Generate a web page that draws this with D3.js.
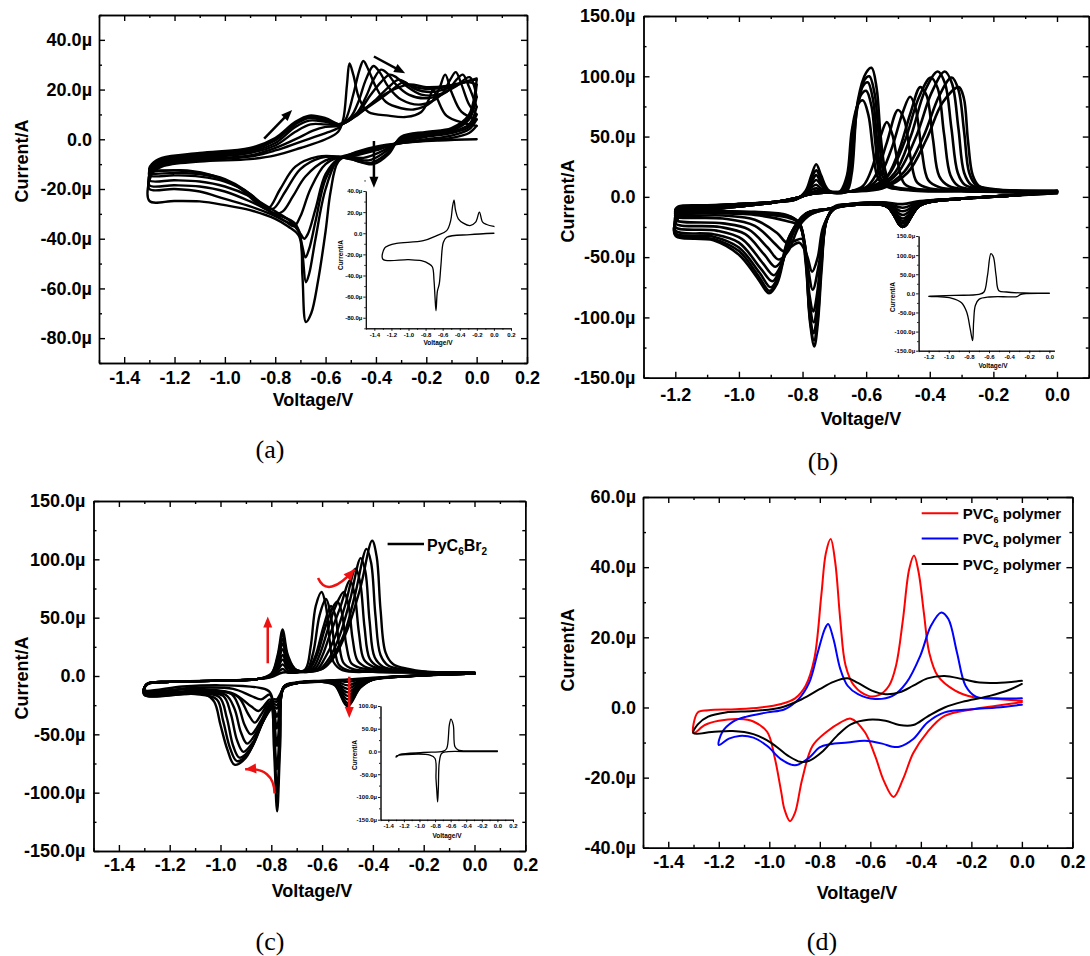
<!DOCTYPE html>
<html>
<head>
<meta charset="utf-8">
<script src="https://cdn.jsdelivr.net/npm/d3@7"></script>
<style>
body { margin: 0; background: #fff; }
svg text { font-family: "Liberation Sans", Arial, sans-serif; font-weight: bold; fill: #000; }
</style>
</head>
<body>
<svg id="fig" width="1090" height="956"></svg>
<script>
/* tick values */
var voltTicks = [-1.4, -1.2, -1.0, -0.8, -0.6, -0.4, -0.2, 0.0, 0.2];
var voltMinor = [-1.5, -1.3, -1.1, -0.9, -0.7, -0.5, -0.3, -0.1, 0.1];
var voltTicksB = [-1.2, -1.0, -0.8, -0.6, -0.4, -0.2, 0.0];
var voltMinorB = [-1.3, -1.1, -0.9, -0.7, -0.5, -0.3, -0.1, 0.1];
var currTicksA = [-80, -60, -40, -20, 0, 20, 40];
var currMinorA = [-90, -70, -50, -30, -10, 10, 30, 50];
var currTicks150 = [-150, -100, -50, 0, 50, 100, 150];
var currMinor150 = [-125, -75, -25, 25, 75, 125];
var currTicksD = [-40, -20, 0, 20, 40, 60];
var currMinorD = [-30, -10, 10, 30, 50];
var currTicksInsetC = [-150, -100, -50, 0, 50, 100];
var currMinorInsetC = [-125, -75, -25, 25, 75];

/* (a) successive cycles, [V, uA] */
var cyclesA = [
 [[0,0],[-0.15,-0.5],[-0.3,-1.5],[-0.4,-3],[-0.5,-6],[-0.55,-9],[-0.58,-21],[-0.6,-37],[-0.63,-57],[-0.657,-70],[-0.678,-73.5],[-0.692,-55],[-0.705,-39],[-0.75,-35],[-0.8,-32],[-0.9,-28.5],[-1.0,-26.5],[-1.1,-25],[-1.2,-24.8],[-1.3,-24.8],[-1.29,-14],[-1.25,-11],[-1.1,-9],[-0.9,-8],[-0.8,-6.5],[-0.7,-3.5],[-0.6,0],[-0.55,3],[-0.53,8],[-0.515,22],[-0.505,30.5],[-0.49,26],[-0.465,16],[-0.43,11],[-0.35,9.5],[-0.28,9],[-0.22,11],[-0.19,16],[-0.173,20],[-0.155,16],[-0.12,9.5],[-0.05,6.5],[0,5.4]],
 [[0,5.4],[-0.03,2.5],[-0.1,0.5],[-0.2,-0.5],[-0.3,-1.5],[-0.4,-3.5],[-0.5,-6],[-0.55,-8],[-0.6,-20],[-0.64,-40],[-0.665,-54],[-0.678,-57.5],[-0.692,-46],[-0.71,-36],[-0.76,-33],[-0.82,-30],[-0.9,-27],[-1.0,-24],[-1.1,-21],[-1.2,-20],[-1.3,-20],[-1.29,-13],[-1.25,-10.5],[-1.1,-8.5],[-0.9,-7],[-0.8,-4.5],[-0.7,-1],[-0.6,2.5],[-0.55,4.5],[-0.52,8],[-0.49,18],[-0.465,28],[-0.45,31.5],[-0.43,28],[-0.4,21],[-0.36,15],[-0.3,12.5],[-0.25,12],[-0.18,15],[-0.15,20],[-0.125,26],[-0.1,19],[-0.06,11],[0,8]],
 [[0,8],[-0.03,4],[-0.1,1.5],[-0.2,0],[-0.3,-1.5],[-0.4,-4],[-0.5,-6.5],[-0.55,-8],[-0.6,-16],[-0.64,-33],[-0.665,-44],[-0.68,-47.5],[-0.695,-42],[-0.72,-34],[-0.8,-30],[-0.9,-25],[-1.0,-21],[-1.1,-19],[-1.2,-18.5],[-1.3,-18.5],[-1.29,-12.5],[-1.25,-10],[-1.1,-8],[-0.9,-6.5],[-0.8,-3.5],[-0.7,1],[-0.65,3.5],[-0.6,5],[-0.55,5.5],[-0.5,9],[-0.47,15],[-0.44,24],[-0.41,29.5],[-0.385,27],[-0.35,21],[-0.3,16],[-0.22,14],[-0.14,18],[-0.105,24],[-0.083,27],[-0.06,22],[-0.03,14],[0,10]],
 [[0,10],[-0.03,5],[-0.1,2.5],[-0.2,1],[-0.3,-1],[-0.4,-4.5],[-0.5,-7],[-0.55,-8],[-0.6,-14],[-0.64,-28],[-0.67,-38],[-0.685,-40],[-0.7,-38],[-0.74,-33],[-0.8,-29],[-0.9,-23],[-1.0,-19],[-1.1,-17],[-1.2,-16.5],[-1.3,-16.5],[-1.29,-12],[-1.25,-9.5],[-1.1,-7.5],[-0.9,-5.5],[-0.8,-2.5],[-0.72,3],[-0.66,6],[-0.6,6],[-0.55,6],[-0.48,10],[-0.44,17],[-0.41,24],[-0.38,28],[-0.355,26.5],[-0.32,22],[-0.27,18],[-0.2,16.5],[-0.12,19],[-0.08,24],[-0.055,26],[-0.03,21],[0,13]],
 [[0,13],[-0.03,6],[-0.1,3],[-0.2,1.5],[-0.3,-0.5],[-0.38,-5],[-0.45,-7.5],[-0.53,-7],[-0.6,-10],[-0.66,-20],[-0.7,-31],[-0.725,-35],[-0.76,-33],[-0.82,-29],[-0.9,-22],[-1.0,-17],[-1.1,-15],[-1.2,-14.5],[-1.3,-14.5],[-1.29,-11.5],[-1.25,-9],[-1.1,-7],[-0.9,-5],[-0.8,-1.5],[-0.72,5],[-0.665,7.5],[-0.6,7],[-0.54,6],[-0.47,11],[-0.42,18],[-0.38,23],[-0.346,26],[-0.32,25],[-0.28,21.5],[-0.22,18],[-0.15,18],[-0.08,21.5],[-0.028,25],[0,17]],
 [[0,17],[-0.03,8],[-0.1,3.5],[-0.2,2],[-0.3,0],[-0.37,-5.5],[-0.43,-8.5],[-0.53,-7],[-0.6,-8.5],[-0.68,-15],[-0.73,-23],[-0.77,-29],[-0.8,-30],[-0.85,-27],[-0.9,-22],[-1.0,-16.5],[-1.1,-14],[-1.2,-13.5],[-1.3,-13.5],[-1.29,-11],[-1.25,-8.5],[-1.1,-6.5],[-0.9,-4.5],[-0.8,-0.5],[-0.72,6],[-0.665,8.5],[-0.6,7.5],[-0.54,6],[-0.47,10],[-0.4,16],[-0.35,21],[-0.31,24],[-0.285,23],[-0.25,20.5],[-0.18,19],[-0.1,21],[-0.04,23],[0,22]],
 [[0,22],[-0.03,9],[-0.1,4],[-0.2,2.5],[-0.3,0.5],[-0.36,-6],[-0.42,-9.5],[-0.5,-8],[-0.55,-7],[-0.62,-7.5],[-0.7,-12],[-0.76,-21],[-0.81,-28],[-0.86,-26],[-0.92,-20.5],[-1.0,-16],[-1.1,-13.5],[-1.2,-12.5],[-1.3,-12.5],[-1.29,-10.5],[-1.25,-8],[-1.1,-6],[-0.9,-4],[-0.8,0],[-0.72,6.5],[-0.665,9],[-0.6,8],[-0.54,6],[-0.46,11],[-0.36,18],[-0.29,23],[-0.27,22],[-0.22,20.5],[-0.15,20.5],[-0.08,22],[-0.03,23.5],[0,24]],
 [[0,24],[-0.03,10],[-0.1,4.5],[-0.2,3],[-0.3,1],[-0.35,-6],[-0.41,-10],[-0.5,-8],[-0.55,-7],[-0.63,-7],[-0.72,-11],[-0.78,-20],[-0.83,-28],[-0.88,-25],[-0.95,-19],[-1.05,-14.5],[-1.15,-12.5],[-1.3,-12],[-1.29,-10],[-1.25,-7.5],[-1.1,-5.5],[-0.9,-3.5],[-0.8,0.5],[-0.72,7],[-0.665,9.5],[-0.6,8.5],[-0.54,6],[-0.45,12],[-0.35,19],[-0.27,22],[-0.2,21],[-0.12,21.5],[-0.05,23],[0,24.5]]
];
var insetA = [[0,0],[-0.28,-1.3],[-0.553,-3.8],[-0.592,-8.6],[-0.62,-30],[-0.64,-48],[-0.662,-55],[-0.678,-73.4],[-0.69,-60],[-0.701,-45],[-0.72,-32],[-0.76,-29],[-0.85,-26],[-1.0,-25],[-1.3,-24.6],[-1.28,-14],[-1.236,-11.8],[-1.14,-9.6],[-0.826,-7],[-0.67,-2.2],[-0.553,2.5],[-0.506,12],[-0.485,25],[-0.467,31.3],[-0.45,22],[-0.417,13.7],[-0.358,9.6],[-0.28,7.3],[-0.214,10.5],[-0.17,20],[-0.132,10.5],[-0.085,8.3],[0,6.4]];
var arrowsA = [
 [[-0.408,33.3],[-0.284,26.6]],
 [[-0.844,0.3],[-0.733,11.8]],
 [[-0.408,-0.7],[-0.408,-19.5]]
];

/* (b) successive cycles */
var cyclesB = [
 [[0,3],[-0.15,1],[-0.3,-1.5],[-0.43,-3.5],[-0.485,-6],[-0.55,-4.5],[-0.65,-6],[-0.7,-8],[-0.725,-20],[-0.74,-60],[-0.752,-105],[-0.763,-124],[-0.776,-105],[-0.79,-55],[-0.81,-22],[-0.85,-15],[-0.95,-12.5],[-1.1,-11.5],[-1.2,-11],[-1.19,-8],[-1.1,-7],[-1.0,-6],[-0.9,-4.5],[-0.82,-2],[-0.79,5],[-0.772,18],[-0.757,27],[-0.742,18],[-0.72,6],[-0.69,3],[-0.66,5],[-0.645,20],[-0.626,80],[-0.6,103],[-0.583,107],[-0.567,90],[-0.555,52],[-0.54,22],[-0.52,9],[-0.45,5],[-0.3,4.5],[-0.15,4],[0,3]],
 [[0,3],[-0.15,1],[-0.3,-1.5],[-0.43,-4],[-0.485,-9],[-0.54,-5],[-0.65,-6],[-0.7,-8.5],[-0.725,-20],[-0.74,-55],[-0.752,-100],[-0.764,-119],[-0.777,-100],[-0.79,-52],[-0.81,-22],[-0.85,-15.5],[-0.95,-13],[-1.1,-12],[-1.2,-12],[-1.19,-9],[-1.1,-7.5],[-1.0,-6],[-0.9,-4.5],[-0.82,-2],[-0.79,4],[-0.772,15],[-0.757,22],[-0.742,15],[-0.72,5],[-0.69,3],[-0.665,5],[-0.648,20],[-0.63,70],[-0.605,97],[-0.59,100],[-0.573,85],[-0.56,50],[-0.545,20],[-0.52,9],[-0.45,5.5],[-0.3,5],[-0.15,4],[0,3.5]],
 [[0,3.5],[-0.15,1],[-0.3,-1.5],[-0.43,-4.5],[-0.485,-12],[-0.535,-5.5],[-0.65,-6],[-0.7,-9],[-0.725,-20],[-0.74,-52],[-0.753,-95],[-0.765,-113],[-0.778,-95],[-0.79,-50],[-0.81,-22],[-0.85,-16],[-0.95,-13.5],[-1.1,-12.5],[-1.2,-12.5],[-1.19,-9.5],[-1.1,-7.5],[-1.0,-6],[-0.9,-4.5],[-0.82,-2],[-0.79,3],[-0.772,12],[-0.757,18],[-0.742,12],[-0.72,5],[-0.69,3.5],[-0.67,5],[-0.652,20],[-0.635,65],[-0.61,92],[-0.595,95],[-0.578,80],[-0.565,45],[-0.55,18],[-0.52,9],[-0.45,6],[-0.3,5],[-0.15,4],[0,4]],
 [[0,4],[-0.15,1],[-0.3,-1.5],[-0.43,-5],[-0.485,-15],[-0.535,-6],[-0.65,-6.5],[-0.7,-9],[-0.725,-20],[-0.74,-48],[-0.753,-88],[-0.765,-104],[-0.778,-88],[-0.79,-46],[-0.81,-22],[-0.85,-17],[-0.95,-14],[-1.1,-13],[-1.2,-13],[-1.19,-10],[-1.1,-8],[-1.0,-6],[-0.9,-4.5],[-0.82,-2],[-0.79,2.5],[-0.772,10],[-0.757,14],[-0.742,10],[-0.72,4.5],[-0.69,3.5],[-0.675,5],[-0.655,20],[-0.64,60],[-0.615,85],[-0.6,88],[-0.583,75],[-0.57,42],[-0.555,16],[-0.525,8],[-0.45,6],[-0.3,5],[-0.15,4],[0,4]],
 [[0,4],[-0.15,1],[-0.3,-1.5],[-0.43,-5.5],[-0.485,-18],[-0.535,-6.5],[-0.65,-6.5],[-0.7,-9.5],[-0.725,-20],[-0.74,-45],[-0.754,-80],[-0.766,-95],[-0.779,-80],[-0.79,-45],[-0.81,-24],[-0.85,-20],[-0.95,-15],[-1.1,-13.5],[-1.2,-13.5],[-1.19,-10],[-1.1,-8],[-1.0,-6],[-0.9,-4.5],[-0.82,-1.5],[-0.79,2.5],[-0.772,8],[-0.757,10],[-0.742,7],[-0.72,4],[-0.69,3.5],[-0.68,5],[-0.66,18],[-0.645,55],[-0.625,77],[-0.61,80],[-0.593,68],[-0.578,38],[-0.562,15],[-0.53,8],[-0.45,6],[-0.3,5],[-0.15,4],[0,4]],
 [[0,4],[-0.15,1],[-0.3,-1.5],[-0.43,-6],[-0.485,-20],[-0.535,-7],[-0.65,-7],[-0.7,-10],[-0.73,-22],[-0.748,-55],[-0.768,-77],[-0.785,-55],[-0.8,-35],[-0.83,-37],[-0.85,-38],[-0.88,-30],[-0.95,-19],[-1.05,-15.5],[-1.2,-14.5],[-1.19,-11],[-1.1,-8.5],[-1.0,-6.5],[-0.9,-4.5],[-0.82,-1.5],[-0.79,2],[-0.77,6],[-0.755,7],[-0.74,5],[-0.7,4],[-0.65,4.5],[-0.61,9],[-0.58,25],[-0.555,50],[-0.535,62],[-0.518,52],[-0.5,28],[-0.48,11],[-0.44,6.5],[-0.3,5],[-0.15,4],[0,4]],
 [[0,4],[-0.15,1],[-0.3,-1.5],[-0.43,-6],[-0.485,-22],[-0.535,-7.5],[-0.65,-7],[-0.7,-10],[-0.735,-25],[-0.752,-50],[-0.77,-62],[-0.787,-48],[-0.81,-38],[-0.84,-42],[-0.86,-45],[-0.89,-38],[-0.95,-24],[-1.05,-18],[-1.2,-16],[-1.19,-12],[-1.1,-9],[-1.0,-7],[-0.9,-5],[-0.82,-1.5],[-0.79,1.5],[-0.77,4],[-0.755,5],[-0.74,4],[-0.7,4],[-0.65,4.5],[-0.6,8],[-0.57,18],[-0.535,45],[-0.5,72],[-0.48,64],[-0.46,32],[-0.44,12],[-0.4,7],[-0.3,5.5],[-0.15,4.5],[0,4]],
 [[0,4],[-0.15,1],[-0.3,-1.5],[-0.43,-6.5],[-0.485,-24],[-0.535,-8],[-0.65,-7],[-0.72,-10],[-0.77,-14],[-0.81,-24],[-0.845,-45],[-0.875,-52],[-0.91,-42],[-0.97,-27],[-1.05,-22],[-1.2,-19],[-1.19,-13],[-1.1,-9.5],[-1.0,-7],[-0.9,-5],[-0.82,-1],[-0.78,2.5],[-0.755,4],[-0.72,3.5],[-0.65,4.5],[-0.6,7],[-0.56,16],[-0.52,40],[-0.485,70],[-0.462,83],[-0.445,74],[-0.425,38],[-0.405,14],[-0.37,8],[-0.3,6],[-0.15,4.5],[0,4]],
 [[0,4.5],[-0.15,1],[-0.3,-1.5],[-0.43,-7],[-0.485,-25],[-0.535,-8],[-0.65,-7],[-0.72,-10],[-0.78,-15],[-0.82,-25],[-0.855,-48],[-0.885,-58],[-0.92,-48],[-0.98,-31],[-1.06,-25],[-1.2,-22],[-1.19,-14],[-1.1,-10],[-1.0,-7.5],[-0.9,-5],[-0.82,-1],[-0.78,2.5],[-0.755,3.5],[-0.72,3.5],[-0.65,4.5],[-0.6,7],[-0.54,15],[-0.5,36],[-0.46,70],[-0.43,91],[-0.41,84],[-0.39,48],[-0.37,17],[-0.34,9],[-0.28,6],[-0.15,4.5],[0,4.5]],
 [[0,4.5],[-0.15,1],[-0.3,-1.5],[-0.43,-7],[-0.485,-25],[-0.535,-8],[-0.65,-7],[-0.72,-10],[-0.79,-15],[-0.83,-28],[-0.865,-55],[-0.89,-65],[-0.925,-55],[-0.99,-35],[-1.07,-28],[-1.2,-25],[-1.19,-15],[-1.1,-10.5],[-1.0,-7.5],[-0.9,-5],[-0.82,-1],[-0.78,2],[-0.755,3],[-0.72,3.5],[-0.65,4.5],[-0.58,8],[-0.53,18],[-0.48,45],[-0.435,82],[-0.397,99],[-0.375,90],[-0.355,52],[-0.335,18],[-0.31,9],[-0.25,6],[-0.15,5],[0,4.5]],
 [[0,4.5],[-0.15,1],[-0.3,-1.5],[-0.43,-7],[-0.485,-25],[-0.535,-8],[-0.65,-7],[-0.72,-10],[-0.79,-14],[-0.835,-30],[-0.87,-60],[-0.895,-70],[-0.93,-60],[-1.0,-38],[-1.08,-31],[-1.2,-28],[-1.19,-16],[-1.1,-11],[-1.0,-8],[-0.9,-5],[-0.82,-1],[-0.78,2],[-0.755,3],[-0.72,3.5],[-0.65,4.5],[-0.57,8],[-0.51,20],[-0.46,50],[-0.415,88],[-0.375,104],[-0.352,94],[-0.332,57],[-0.312,20],[-0.29,10],[-0.24,6.5],[-0.15,5],[0,4.5]],
 [[0,5],[-0.15,1],[-0.3,-1.5],[-0.43,-7],[-0.485,-25],[-0.535,-8],[-0.65,-7],[-0.72,-10],[-0.79,-14],[-0.84,-32],[-0.875,-65],[-0.9,-75],[-0.935,-63],[-1.0,-42],[-1.08,-33],[-1.2,-30],[-1.19,-17],[-1.1,-11],[-1.0,-8],[-0.9,-5],[-0.82,-1],[-0.78,2],[-0.755,3],[-0.72,3.5],[-0.65,4.5],[-0.56,8],[-0.5,20],[-0.44,52],[-0.395,86],[-0.353,104],[-0.33,94],[-0.31,57],[-0.292,20],[-0.27,10],[-0.22,6.5],[-0.12,5],[0,5]],
 [[0,5],[-0.15,1],[-0.3,-1.5],[-0.43,-7],[-0.485,-25],[-0.535,-8],[-0.65,-7],[-0.72,-10],[-0.79,-14],[-0.845,-35],[-0.878,-68],[-0.903,-78],[-0.94,-65],[-1.0,-45],[-1.08,-35],[-1.2,-31],[-1.19,-17],[-1.1,-11],[-1.0,-8],[-0.9,-5],[-0.82,-1],[-0.78,2],[-0.755,3],[-0.72,3.5],[-0.65,4.5],[-0.55,8],[-0.48,21],[-0.42,50],[-0.37,84],[-0.331,99],[-0.31,89],[-0.292,54],[-0.276,20],[-0.255,10],[-0.2,6.5],[-0.1,5],[0,5]],
 [[0,5],[-0.15,1],[-0.3,-1.5],[-0.43,-7],[-0.485,-25],[-0.535,-8],[-0.65,-7],[-0.72,-10],[-0.79,-14],[-0.845,-38],[-0.88,-72],[-0.905,-80],[-0.94,-68],[-1.0,-48],[-1.08,-36],[-1.2,-32],[-1.19,-17],[-1.1,-11],[-1.0,-8],[-0.9,-5],[-0.82,-1],[-0.78,2],[-0.755,3],[-0.72,3.5],[-0.65,4.5],[-0.55,7],[-0.47,20],[-0.41,48],[-0.36,78],[-0.309,91],[-0.293,82],[-0.28,47],[-0.265,18],[-0.245,9],[-0.2,6],[-0.1,5],[0,5]]
];
var insetB = [[0,0],[-0.254,-1],[-0.289,-3.5],[-0.323,-8.5],[-0.4,-9],[-0.598,-9.6],[-0.7,-15.8],[-0.736,-31.6],[-0.753,-75],[-0.763,-123.7],[-0.787,-93],[-0.822,-49],[-0.873,-24.6],[-0.976,-12.3],[-1.114,-8.8],[-1.2,-7.9],[-1.18,-7.5],[-0.942,-5.3],[-0.7,-2.6],[-0.65,3.5],[-0.615,47],[-0.581,104],[-0.557,95.6],[-0.53,47],[-0.502,7],[-0.426,3.5],[-0.254,0.9],[0,0.5]];

/* (c) successive cycles */
var cyclesC = [
 [[0,2],[-0.2,0.5],[-0.4,-1.5],[-0.5,-3],[-0.6,-4],[-0.7,-5.5],[-0.75,-9],[-0.765,-60],[-0.777,-116],[-0.79,-60],[-0.805,-14],[-0.85,-10],[-1.0,-8],[-1.15,-9],[-1.3,-12],[-1.29,-7],[-1.2,-5],[-1.0,-4],[-0.85,-2.5],[-0.8,-1],[-0.755,3],[-0.7,3],[-0.665,6],[-0.645,25],[-0.625,60],[-0.602,72],[-0.585,60],[-0.57,30],[-0.555,12],[-0.52,5],[-0.4,3.5],[-0.2,3],[0,2.5]],
 [[0,2],[-0.2,0.5],[-0.4,-2],[-0.45,-3],[-0.5,-5],[-0.55,-3.5],[-0.6,-4.5],[-0.7,-6],[-0.75,-9],[-0.765,-50],[-0.777,-100],[-0.79,-50],[-0.805,-16],[-0.84,-20],[-0.88,-17],[-0.95,-11],[-1.1,-10],[-1.3,-12.5],[-1.29,-7],[-1.2,-5],[-1.0,-4],[-0.85,-2.5],[-0.8,-0.5],[-0.775,3],[-0.755,6],[-0.735,3],[-0.7,3],[-0.66,5],[-0.635,20],[-0.61,52],[-0.585,66],[-0.567,54],[-0.552,27],[-0.535,10],[-0.5,5],[-0.4,3.5],[-0.2,3],[0,2.5]],
 [[0,2],[-0.2,0.5],[-0.4,-2],[-0.45,-4],[-0.5,-8],[-0.55,-4],[-0.6,-4.5],[-0.7,-6],[-0.75,-9],[-0.766,-45],[-0.778,-80],[-0.79,-45],[-0.805,-20],[-0.83,-26],[-0.85,-30],[-0.88,-26],[-0.95,-15],[-1.1,-11],[-1.3,-13],[-1.29,-7],[-1.2,-5],[-1.0,-4],[-0.85,-2.5],[-0.8,0],[-0.775,5],[-0.755,10],[-0.735,5],[-0.7,3.5],[-0.655,5.5],[-0.625,18],[-0.595,42],[-0.565,60],[-0.548,52],[-0.533,27],[-0.515,11],[-0.48,6],[-0.4,4],[-0.2,3],[0,2.5]],
 [[0,2],[-0.2,0.5],[-0.4,-2.5],[-0.45,-5],[-0.5,-11],[-0.55,-5],[-0.6,-5],[-0.7,-6],[-0.75,-9],[-0.766,-35],[-0.778,-60],[-0.79,-35],[-0.805,-22],[-0.84,-33],[-0.865,-40],[-0.89,-33],[-0.93,-18],[-1.0,-13],[-1.1,-12.5],[-1.3,-13.5],[-1.29,-7],[-1.2,-5],[-1.0,-4],[-0.85,-2.5],[-0.8,0.5],[-0.775,7],[-0.755,14],[-0.735,7],[-0.7,4],[-0.65,6],[-0.62,18],[-0.59,40],[-0.56,58],[-0.54,64],[-0.522,54],[-0.505,27],[-0.485,11],[-0.45,7],[-0.38,5],[-0.2,3],[0,2.5]],
 [[0,2],[-0.2,0.5],[-0.4,-2.5],[-0.45,-6],[-0.5,-14],[-0.55,-5.5],[-0.6,-5],[-0.7,-6],[-0.75,-9],[-0.766,-28],[-0.778,-45],[-0.79,-30],[-0.805,-24],[-0.84,-38],[-0.88,-50],[-0.905,-42],[-0.93,-25],[-0.96,-15],[-1.1,-13.5],[-1.3,-14],[-1.29,-7],[-1.2,-5],[-1.0,-4],[-0.85,-2.5],[-0.8,0.5],[-0.775,8],[-0.755,18],[-0.735,8],[-0.7,4],[-0.64,6],[-0.61,18],[-0.58,38],[-0.55,58],[-0.515,72],[-0.497,62],[-0.48,32],[-0.46,13],[-0.42,7],[-0.35,5],[-0.2,3],[0,2.5]],
 [[0,2],[-0.2,0.5],[-0.4,-3],[-0.45,-7],[-0.5,-17],[-0.55,-6],[-0.6,-5],[-0.7,-6],[-0.75,-10],[-0.766,-25],[-0.778,-35],[-0.79,-28],[-0.81,-28],[-0.85,-45],[-0.895,-58],[-0.92,-48],[-0.945,-28],[-0.98,-16],[-1.1,-14],[-1.3,-14.5],[-1.29,-7],[-1.2,-5],[-1.0,-4],[-0.85,-2.5],[-0.8,1],[-0.775,10],[-0.755,23],[-0.735,10],[-0.7,4],[-0.63,6],[-0.6,17],[-0.57,35],[-0.53,58],[-0.49,82],[-0.472,70],[-0.455,37],[-0.435,14],[-0.4,8],[-0.33,5],[-0.2,3.5],[0,2.5]],
 [[0,2],[-0.2,0.5],[-0.4,-3],[-0.45,-8],[-0.5,-20],[-0.55,-6.5],[-0.6,-5],[-0.7,-6],[-0.75,-10],[-0.766,-22],[-0.778,-28],[-0.79,-26],[-0.83,-38],[-0.87,-56],[-0.91,-65],[-0.935,-55],[-0.96,-32],[-0.99,-17],[-1.1,-14.5],[-1.3,-15],[-1.29,-7],[-1.2,-5],[-1.0,-4],[-0.85,-2.5],[-0.8,1],[-0.775,12],[-0.755,28],[-0.735,12],[-0.7,4.5],[-0.62,6],[-0.59,15],[-0.55,33],[-0.51,60],[-0.468,92],[-0.45,80],[-0.433,42],[-0.413,15],[-0.38,8],[-0.32,5],[-0.2,3.5],[0,2.5]],
 [[0,2.5],[-0.2,0.5],[-0.4,-3],[-0.45,-9],[-0.5,-23],[-0.55,-7],[-0.6,-5],[-0.7,-6],[-0.75,-10],[-0.766,-20],[-0.778,-25],[-0.79,-24],[-0.83,-38],[-0.88,-62],[-0.925,-70],[-0.95,-60],[-0.975,-36],[-1.005,-18],[-1.1,-15],[-1.3,-15.5],[-1.29,-7],[-1.2,-5],[-1.0,-4],[-0.85,-2.5],[-0.8,1.5],[-0.775,14],[-0.755,32],[-0.735,14],[-0.7,4.5],[-0.61,6],[-0.57,16],[-0.53,35],[-0.49,65],[-0.448,101],[-0.43,90],[-0.413,47],[-0.393,16],[-0.36,8],[-0.3,5],[-0.2,3.5],[0,2.5]],
 [[0,2.5],[-0.2,0.5],[-0.4,-3],[-0.45,-10],[-0.5,-25],[-0.55,-7.5],[-0.6,-5],[-0.7,-6],[-0.75,-10],[-0.766,-18],[-0.778,-22],[-0.79,-22],[-0.835,-40],[-0.89,-66],[-0.935,-73],[-0.962,-62],[-0.99,-38],[-1.015,-20],[-1.1,-15.5],[-1.3,-16],[-1.29,-7],[-1.2,-5],[-1.0,-4],[-0.85,-2.5],[-0.8,1.5],[-0.775,16],[-0.755,36],[-0.735,16],[-0.7,5],[-0.6,6],[-0.56,16],[-0.51,38],[-0.47,70],[-0.425,109],[-0.407,97],[-0.39,52],[-0.37,18],[-0.34,9],[-0.28,5.5],[-0.2,3.5],[0,3]],
 [[0,3],[-0.2,0.5],[-0.4,-3],[-0.45,-10],[-0.5,-26],[-0.55,-8],[-0.6,-5],[-0.7,-6],[-0.75,-10],[-0.766,-16],[-0.778,-20],[-0.79,-20],[-0.84,-42],[-0.9,-70],[-0.945,-76],[-0.973,-63],[-1.0,-42],[-1.025,-22],[-1.06,-16],[-1.15,-15.5],[-1.3,-16],[-1.29,-7.5],[-1.2,-5],[-1.0,-4],[-0.85,-2.5],[-0.8,2],[-0.775,18],[-0.755,40],[-0.735,18],[-0.7,5],[-0.6,6],[-0.55,17],[-0.5,40],[-0.45,75],[-0.403,116],[-0.385,102],[-0.37,57],[-0.35,20],[-0.32,10],[-0.26,6],[-0.2,4],[0,3]]
];
var insetC = [[0,0],[-0.309,-0.5],[-0.651,-0.7],[-0.716,-4.4],[-0.745,-22.8],[-0.758,-81.6],[-0.767,-111],[-0.778,-85],[-0.788,-59.6],[-0.8,-15.4],[-0.865,-8.1],[-1.165,-6.6],[-1.293,-9.6],[-1.3,-12.5],[-1.25,-6.6],[-0.95,-2.2],[-0.694,0.7],[-0.651,6.6],[-0.617,58],[-0.596,71.3],[-0.566,58],[-0.544,10.3],[-0.5,3],[-0.309,1.5],[0,1.5]];
var redArrowsC = [
 [[-0.814,10.9],[-0.814,50.9]],
 [[-0.493,-0.6],[-0.493,-36]]
];
var redCurvesC = [
 [[-0.616,84],[-0.578,65.6],[-0.472,91.4]],
 [[-0.787,-100.6],[-0.79,-78],[-0.903,-80]]
];

/* (d) polymer films */
var pvc6 = [[0,1.5],[-0.1,0.5],[-0.195,-0.5],[-0.306,-2.4],[-0.374,-7],[-0.43,-13],[-0.471,-20.5],[-0.508,-25.5],[-0.546,-21],[-0.581,-13.8],[-0.622,-7],[-0.677,-3.2],[-0.719,-4.3],[-0.774,-7],[-0.829,-11],[-0.87,-20.5],[-0.898,-30],[-0.918,-32.4],[-0.94,-29],[-0.953,-24],[-0.98,-13.8],[-1.008,-7],[-1.063,-4],[-1.118,-3.3],[-1.2,-3.8],[-1.255,-5],[-1.3,-7.3],[-1.283,-1.4],[-1.242,-0.8],[-1.132,-0.5],[-1.035,0],[-0.953,1],[-0.898,2.6],[-0.856,6.2],[-0.822,13.8],[-0.794,32],[-0.776,44],[-0.757,48],[-0.739,41.4],[-0.719,25],[-0.698,12],[-0.664,6.2],[-0.608,3.3],[-0.567,3.5],[-0.526,6.2],[-0.498,12],[-0.471,25],[-0.446,39.5],[-0.427,43.3],[-0.409,38.6],[-0.388,27],[-0.367,15.7],[-0.333,9],[-0.264,4.8],[-0.195,3],[-0.1,2.4],[0,1.9]];
var pvc4 = [[0,0.8],[-0.1,0],[-0.195,-0.5],[-0.306,-1.4],[-0.374,-4.3],[-0.43,-9],[-0.485,-11.2],[-0.512,-11.2],[-0.553,-10.3],[-0.622,-9.5],[-0.69,-10],[-0.76,-10.5],[-0.801,-11.4],[-0.842,-14.3],[-0.898,-16.5],[-0.953,-14.8],[-1.008,-11],[-1.063,-8.6],[-1.118,-8.1],[-1.16,-8.9],[-1.2,-10.7],[-1.187,-7.1],[-1.145,-4.1],[-1.09,-2.6],[-1.008,-1.4],[-0.939,-0.5],[-0.884,2.4],[-0.842,7.1],[-0.808,15.7],[-0.78,22.4],[-0.767,23.8],[-0.746,19.5],[-0.719,11],[-0.69,6.2],[-0.649,3.8],[-0.581,2.4],[-0.512,3.3],[-0.457,7.1],[-0.402,14.8],[-0.36,23.3],[-0.319,27.1],[-0.291,25.2],[-0.257,15.7],[-0.223,6.2],[-0.182,3.1],[-0.1,2.6],[0,2.6]];
var pvc2 = [[0,6.7],[-0.044,5.2],[-0.127,3.3],[-0.236,1.6],[-0.306,0],[-0.374,-2.6],[-0.43,-5],[-0.485,-5],[-0.54,-3.8],[-0.608,-3.5],[-0.677,-4.8],[-0.732,-8.1],[-0.787,-12.4],[-0.842,-15.2],[-0.877,-15.5],[-0.925,-13.8],[-0.994,-10],[-1.063,-7.6],[-1.145,-6.7],[-1.228,-7],[-1.3,-7.3],[-1.283,-4.8],[-1.242,-2.6],[-1.173,-1.4],[-1.063,-1],[-0.953,0],[-0.87,2.4],[-0.801,5.2],[-0.746,7.3],[-0.69,8.3],[-0.649,7],[-0.594,4.8],[-0.54,3.8],[-0.485,4.3],[-0.43,6.2],[-0.374,8.3],[-0.306,9],[-0.236,8.1],[-0.167,7.1],[-0.1,7],[0,7.6]];
var legendD = ["PVC|6| polymer", "PVC|4| polymer", "PVC|2| polymer"];
var coloursD = ["#ff0000", "#0000ff", "#000000"];

var svg = d3.select("#fig");

function fmtX(d) { return d.toFixed(1); }
function fmtY(d) { return d === 0 ? "0.0" : d.toFixed(1) + "\u00b5"; }

/* axes for a main panel (inward ticks, full frame) or an inset (outward, left+bottom) */
function makePanel(p) {
  var x = d3.scaleLinear().domain(p.xDom).range(p.xRange);
  var y = d3.scaleLinear().domain(p.yDom).range(p.yRange);
  var g = svg.append("g");
  var x0 = p.xRange[0], x1 = p.xRange[1], yb = p.yRange[0], yt = p.yRange[1];
  var big = p.inset ? 2.5 : -6, small = p.inset ? 1.5 : -3;

  g.append("g").attr("transform", "translate(0," + yb + ")")
    .call(d3.axisBottom(x).tickValues(p.xt).tickSize(big).tickSizeOuter(0).tickPadding(p.xpad).tickFormat(fmtX));
  g.append("g").attr("transform", "translate(0," + yb + ")")
    .call(d3.axisBottom(x).tickValues(p.xm).tickSize(small).tickSizeOuter(0).tickFormat(""));
  g.append("g").attr("transform", "translate(" + x0 + ",0)")
    .call(d3.axisLeft(y).tickValues(p.yt).tickSize(big).tickSizeOuter(0).tickPadding(p.ypad).tickFormat(fmtY));
  g.append("g").attr("transform", "translate(" + x0 + ",0)")
    .call(d3.axisLeft(y).tickValues(p.ym).tickSize(small).tickSizeOuter(0).tickFormat(""));

  if (!p.inset) {
    g.append("g").attr("transform", "translate(0," + yt + ")")
      .call(d3.axisTop(x).tickValues(p.xt).tickSize(big).tickSizeOuter(0).tickFormat(""));
    g.append("g").attr("transform", "translate(0," + yt + ")")
      .call(d3.axisTop(x).tickValues(p.xm).tickSize(small).tickSizeOuter(0).tickFormat(""));
    g.append("g").attr("transform", "translate(" + x1 + ",0)")
      .call(d3.axisRight(y).tickValues(p.yt).tickSize(big).tickSizeOuter(0).tickFormat(""));
    g.append("g").attr("transform", "translate(" + x1 + ",0)")
      .call(d3.axisRight(y).tickValues(p.ym).tickSize(small).tickSizeOuter(0).tickFormat(""));
  }
  g.selectAll("g").attr("font-size", p.fs).attr("font-family", null);
  g.selectAll(".domain, .tick line").attr("stroke", "#000").attr("stroke-width", p.lw);

  // axis titles
  g.append("text").attr("x", p.xTitle[0]).attr("y", p.xTitle[1])
    .attr("text-anchor", "middle").attr("font-size", p.tfs).text("Voltage/V");
  g.append("text").attr("transform", "translate(" + p.yTitle[0] + "," + p.yTitle[1] + ") rotate(-90)")
    .attr("text-anchor", "middle").attr("font-size", p.tfs).text("Current/A");
  return {x: x, y: y, g: g};
}

function drawCurve(P, data, colour, width) {
  var line = d3.line()
    .x(function(d) { return P.x(d[0]); })
    .y(function(d) { return P.y(d[1]); })
    .curve(d3.curveCatmullRom.alpha(0.5));
  P.g.append("path").attr("d", line(data))
    .attr("fill", "none").attr("stroke", colour).attr("stroke-width", width)
    .attr("stroke-linejoin", "round").attr("stroke-linecap", "round");
}

function arrowHead(g, tip, from, len, wid, colour) {
  var dx = tip[0] - from[0], dy = tip[1] - from[1];
  var n = Math.sqrt(dx * dx + dy * dy); dx /= n; dy /= n;
  var bx = tip[0] - dx * len, by = tip[1] - dy * len;
  var pts = [tip, [bx - dy * wid / 2, by + dx * wid / 2], [bx + dy * wid / 2, by - dx * wid / 2]];
  g.append("polygon").attr("points", pts.map(function(q) { return q.join(","); }).join(" "))
    .attr("fill", colour);
}

function straightArrow(P, a, colour, width, len, wid) {
  var s = [P.x(a[0][0]), P.y(a[0][1])], e = [P.x(a[1][0]), P.y(a[1][1])];
  var dx = e[0] - s[0], dy = e[1] - s[1], n = Math.sqrt(dx * dx + dy * dy);
  P.g.append("line").attr("x1", s[0]).attr("y1", s[1])
    .attr("x2", e[0] - dx / n * len * 0.8).attr("y2", e[1] - dy / n * len * 0.8)
    .attr("stroke", colour).attr("stroke-width", width);
  arrowHead(P.g, e, s, len, wid, colour);
}

function curvedArrow(P, a, colour, width, len, wid) {
  var p0 = [P.x(a[0][0]), P.y(a[0][1])], c = [P.x(a[1][0]), P.y(a[1][1])], p2 = [P.x(a[2][0]), P.y(a[2][1])];
  var path = d3.path();
  path.moveTo(p0[0], p0[1]);
  path.quadraticCurveTo(c[0], c[1], p2[0], p2[1]);
  P.g.append("path").attr("d", path.toString()).attr("fill", "none")
    .attr("stroke", colour).attr("stroke-width", width);
  arrowHead(P.g, p2, c, len, wid, colour);
}

function subLabel(txt, x, y) {
  svg.append("text").attr("x", x).attr("y", y).attr("text-anchor", "middle")
    .style("font-family", "'Liberation Serif', 'Times New Roman', serif")
    .style("font-weight", "normal").attr("font-size", 26).text(txt);
}

/* ---------- (a) ---------- */
var PA = makePanel({xDom: [-1.5, 0.2], xRange: [99, 527], yDom: [-90, 50], yRange: [363, 15],
  xt: voltTicks, xm: voltMinor, yt: currTicksA, ym: currMinorA, xpad: 8, ypad: 7,
  fs: 18, tfs: 18, lw: 1.4, xTitle: [313, 406], yTitle: [28, 161]});
cyclesA.forEach(function(c) { drawCurve(PA, c, "#000", 2.4); });
arrowsA.forEach(function(a) { straightArrow(PA, a, "#000", 2.5, 11, 9); });

var IA = makePanel({inset: true, xDom: [-1.5, 0.2], xRange: [365.8, 511], yDom: [-90, 40], yRange: [328.3, 191],
  xt: voltTicks, xm: voltMinor, yt: currTicksA, ym: currMinorA, xpad: 1.5, ypad: 1,
  fs: 6, tfs: 6.5, lw: 0.9, xTitle: [438, 345], yTitle: [343, 255]});
drawCurve(IA, insetA, "#000", 1.3);

/* ---------- (b) ---------- */
var PB = makePanel({xDom: [-1.3, 0.1], xRange: [643.5, 1088.8], yDom: [-150, 150], yRange: [377.7, 16],
  xt: voltTicksB, xm: voltMinorB, yt: currTicks150, ym: currMinor150, xpad: 11, ypad: 8,
  fs: 18, tfs: 18, lw: 1.4, xTitle: [861, 425], yTitle: [574, 201]});
cyclesB.forEach(function(c) { drawCurve(PB, c, "#000", 2.6); });

var IB = makePanel({inset: true, xDom: [-1.3, 0.05], xRange: [918.6, 1054.4], yDom: [-150, 150], yRange: [350.7, 236],
  xt: voltTicksB, xm: voltMinorB.slice(0, 7), yt: currTicks150, ym: currMinor150, xpad: 1.5, ypad: 1,
  fs: 6, tfs: 6.5, lw: 0.9, xTitle: [993, 368], yTitle: [895, 297]});
drawCurve(IB, insetB, "#000", 1.3);

/* ---------- (c) ---------- */
var PC = makePanel({xDom: [-1.5, 0.2], xRange: [93.5, 525.3], yDom: [-150, 150], yRange: [851, 501],
  xt: voltTicks, xm: voltMinor, yt: currTicks150, ym: currMinor150, xpad: 7.7, ypad: 8,
  fs: 18, tfs: 18, lw: 1.4, xTitle: [312, 897], yTitle: [28, 678]});
cyclesC.forEach(function(c) { drawCurve(PC, c, "#000", 2.4); });
redArrowsC.forEach(function(a) { straightArrow(PC, a, "#ee1111", 2.5, 11, 9); });
redCurvesC.forEach(function(a) { curvedArrow(PC, a, "#ee1111", 2.5, 11, 10); });

var IC = makePanel({inset: true, xDom: [-1.5, 0.2], xRange: [380.5, 513], yDom: [-150, 100], yRange: [819.7, 706],
  xt: voltTicks, xm: voltMinor, yt: currTicksInsetC, ym: currMinorInsetC, xpad: 1.5, ypad: 1,
  fs: 6, tfs: 6.5, lw: 0.9, xTitle: [447, 838], yTitle: [357, 755]});
drawCurve(IC, insetC, "#000", 1.3);

/* legend (c) */
PC.g.append("line").attr("x1", 387.6).attr("x2", 424).attr("y1", 544).attr("y2", 544)
  .attr("stroke", "#000").attr("stroke-width", 2.5);
var lc = PC.g.append("text").attr("x", 427).attr("y", 551).attr("font-size", 16);
lc.append("tspan").text("PyC");
lc.append("tspan").attr("font-size", 10).attr("dy", 4).text("6");
lc.append("tspan").attr("dy", -4).text("Br");
lc.append("tspan").attr("font-size", 10).attr("dy", 4).text("2");

/* ---------- (d) ---------- */
var PD = makePanel({xDom: [-1.5, 0.2], xRange: [643, 1072.4], yDom: [-40, 60], yRange: [847.8, 497],
  xt: voltTicks, xm: voltMinor, yt: currTicksD, ym: currMinorD, xpad: 7.7, ypad: 7,
  fs: 18, tfs: 18, lw: 1.4, xTitle: [857, 899], yTitle: [574, 650]});
[pvc6, pvc4, pvc2].forEach(function(c, i) { drawCurve(PD, c, coloursD[i], 2); });

legendD.forEach(function(lab, i) {
  var yy = 513.3 + i * 25.3;
  var parts = lab.split("|");
  PD.g.append("line").attr("x1", 921.7).attr("x2", 958.3).attr("y1", yy).attr("y2", yy)
    .attr("stroke", coloursD[i]).attr("stroke-width", 2);
  var t = PD.g.append("text").attr("x", 962.7).attr("y", yy + 5.8).attr("font-size", 15);
  t.append("tspan").text(parts[0]);
  t.append("tspan").attr("font-size", 9).attr("dy", 4).text(parts[1]);
  t.append("tspan").attr("dy", -4).text(parts[2]);
});

/* sub-figure labels */
subLabel("(a)", 270, 458);
subLabel("(b)", 823, 470);
subLabel("(c)", 270, 950);
subLabel("(d)", 822, 950);
</script>
</body>
</html>
